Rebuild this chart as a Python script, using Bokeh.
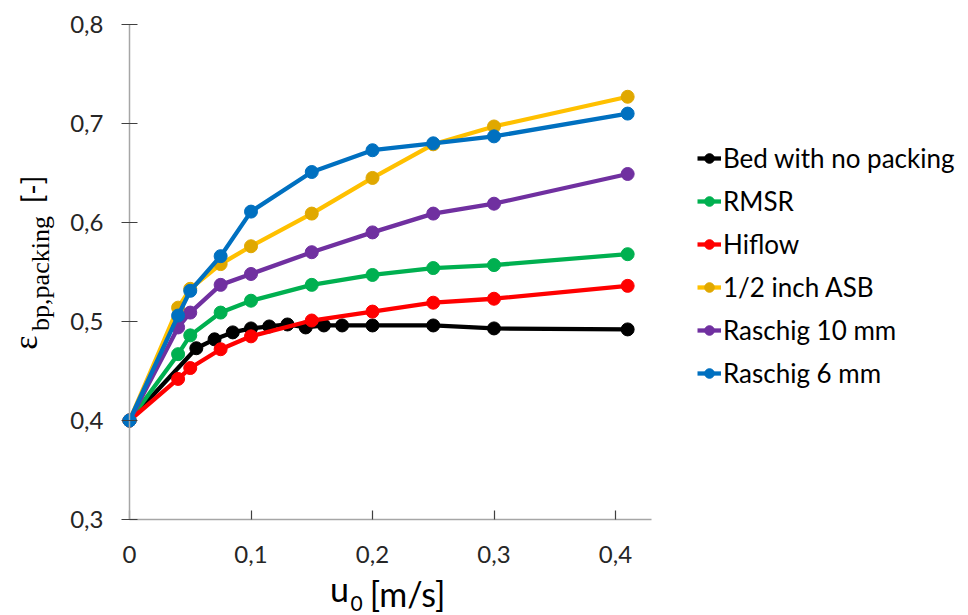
import math
from bokeh.plotting import figure
from bokeh.models import (Range1d, FixedTicker, Legend, LegendItem, Label, LinearAxis)
from bokeh.embed import file_html
from bokeh.resources import INLINE

# ---------------- data ----------------
x_nopack = [0, 0.055, 0.07, 0.085, 0.1, 0.115, 0.13, 0.145, 0.16, 0.175, 0.2, 0.25, 0.3, 0.41]
y_nopack = [0.4, 0.473, 0.482, 0.489, 0.493, 0.495, 0.497, 0.494, 0.496, 0.496, 0.496, 0.496, 0.493, 0.492]

x_pack = [0, 0.04, 0.05, 0.075, 0.1, 0.15, 0.2, 0.25, 0.3, 0.41]
y_rmsr = [0.4, 0.467, 0.486, 0.509, 0.521, 0.537, 0.547, 0.554, 0.557, 0.568]
y_hiflow = [0.4, 0.442, 0.453, 0.472, 0.485, 0.501, 0.510, 0.519, 0.523, 0.536]
y_asb = [0.4, 0.514, 0.533, 0.558, 0.576, 0.609, 0.645, 0.679, 0.697, 0.727]
y_raschig10 = [0.4, 0.494, 0.509, 0.537, 0.548, 0.570, 0.590, 0.609, 0.619, 0.649]
y_raschig6 = [0.4, 0.506, 0.531, 0.566, 0.611, 0.651, 0.673, 0.680, 0.687, 0.710]

series_names = ["Bed with no packing", "RMSR", "Hiflow", "1/2 inch ASB", "Raschig 10 mm", "Raschig 6 mm"]

x_ticks = [0, 0.1, 0.2, 0.3, 0.4]
x_tick_labels = ["0", "0,1", "0,2", "0,3", "0,4"]
y_ticks = [0.3, 0.4, 0.5, 0.6, 0.7, 0.8]
y_tick_labels = ["0,3", "0,4", "0,5", "0,6", "0,7", "0,8"]
x_axis_max = 0.43
y_axis_min, y_axis_max = 0.3, 0.8

# ---------------- layout (plot area 129..652 px wide, 24..519 px high) ----------------
W, H = 968, 615
PX_LEFT, PX_BOTTOM = 129, 519
PX_PER_X = 1215.0
PX_PER_Y = 990.0

def dx(px):
    return (px - PX_LEFT) / PX_PER_X

def dy(py):
    return y_axis_min + (PX_BOTTOM - py) / PX_PER_Y

line_colors = ["#000000", "#00B050", "#FF0000", "#FFC000", "#7030A0", "#0070C0"]
marker_colors = ["#000000", "#00B050", "#FF0000", "#E0A800", "#7030A0", "#0070C0"]
FONT = "Lato"

p = figure(width=W, height=H, output_backend="svg", toolbar_location=None,
           x_range=Range1d(dx(0), dx(W)), y_range=Range1d(dy(H), dy(0)),
           x_axis_location=None, y_axis_location=None)
p.min_border = 0
p.min_border_left = 0
p.min_border_right = 0
p.min_border_top = 0
p.min_border_bottom = 0
p.outline_line_color = None
p.grid.visible = False
p.background_fill_color = "white"
p.border_fill_color = "white"

xaxis = LinearAxis(fixed_location=y_axis_min, bounds=(0, x_axis_max),
                   ticker=FixedTicker(ticks=x_ticks),
                   major_label_overrides={t: l for t, l in zip(x_ticks, x_tick_labels)})
yaxis = LinearAxis(fixed_location=0, bounds=(y_axis_min, y_axis_max),
                   ticker=FixedTicker(ticks=y_ticks),
                   major_label_overrides={t: l for t, l in zip(y_ticks, y_tick_labels)})
for ax in (xaxis, yaxis):
    ax.axis_line_color = "#A6A6A6"
    ax.axis_line_width = 1.5
    ax.major_tick_line_color = "#404040"
    ax.major_tick_line_width = 1.2
    ax.minor_tick_line_color = None
    ax.major_label_text_font = FONT
    ax.major_label_text_font_size = "24px"
    ax.major_label_text_color = "#262626"
xaxis.major_tick_in = 9
xaxis.major_tick_out = 0
xaxis.major_label_standoff = 26
yaxis.major_tick_in = 8
yaxis.major_tick_out = 8
yaxis.major_label_standoff = 18
p.add_layout(xaxis, "below")
p.add_layout(yaxis, "left")

# series
xs_all = [x_nopack, x_pack, x_pack, x_pack, x_pack, x_pack]
ys_all = [y_nopack, y_rmsr, y_hiflow, y_asb, y_raschig10, y_raschig6]
items = []
for name, xs, ys, lc, mc in zip(series_names, xs_all, ys_all, line_colors, marker_colors):
    lr = p.line(xs, ys, line_color=lc, line_width=4.3)
    sr = p.scatter(xs, ys, marker="circle", size=13, fill_color=mc, line_color=mc)
    items.append(LegendItem(label=name, renderers=[lr, sr]))

legend = Legend(items=items, location=(697, H - 389), orientation="vertical",
                glyph_width=24, glyph_height=24, label_height=30, spacing=11,
                label_standoff=2, padding=0, margin=0,
                label_text_font=FONT, label_text_font_size="26px",
                label_text_color="#000000",
                background_fill_alpha=0, border_line_color=None)
p.add_layout(legend, "center")

def add_text(px, py, text, font, size, angle=0.0):
    p.add_layout(Label(x=dx(px), y=dy(py), text=text, text_font=font,
                       text_font_size=size, text_color="#000000", angle=angle,
                       text_align="center", text_baseline="middle"))

# x-axis title: u0 [m/s]
add_text(339, 588, "u", FONT, "34px")
add_text(356, 603, "0", FONT, "21px")
add_text(407, 593, "[m/s]", FONT, "34px")

# y-axis title: epsilon_bp,packing [-]
ang = math.pi / 2
add_text(25, 342, "ε", "Liberation Serif", "34px", ang)
add_text(40, 273, "bp,packing", "Liberation Serif", "26px", ang)
add_text(31, 189, "[-]", FONT, "28px", ang)

open("out.html", "w").write(file_html(p, INLINE))
